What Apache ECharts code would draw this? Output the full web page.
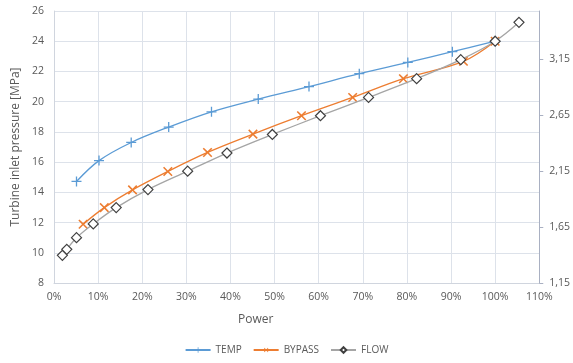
<!DOCTYPE html>
<html>
<head>
<meta charset="utf-8">
<script src="https://cdn.jsdelivr.net/npm/echarts@6/dist/echarts.min.js"></script>
<style>
  html, body { margin: 0; padding: 0; background: #fff; }
  #chart { width: 573px; height: 363px; }
</style>
</head>
<body>
<div id="chart"></div>
<script>
// Turbine inlet pressure vs. power for three control modes
const tempPower   = [5.1, 10.2, 17.5, 26.0, 35.7, 46.3, 57.8, 69.2, 80.2, 90.3, 100];
const tempPress   = [14.72, 16.1, 17.3, 18.32, 19.33, 20.17, 21.0, 21.85, 22.6, 23.31, 24.0];

const bypassPower = [6.6, 11.4, 17.8, 25.8, 34.8, 45.1, 56.1, 67.7, 79.2, 92.8, 100];
const bypassPress = [11.89, 12.99, 14.16, 15.38, 16.64, 17.85, 19.07, 20.28, 21.52, 22.67, 24.0];

const flowPower   = [1.9, 2.9, 5.1, 8.9, 14.1, 21.3, 30.3, 39.2, 49.5, 60.4, 71.3, 82.2, 92.2, 100, 105.4];
const flowPress   = [9.83, 10.23, 11.0, 11.91, 12.99, 14.18, 15.4, 16.6, 17.83, 19.07, 20.28, 21.52, 22.78, 24.0, 25.25];

// Secondary axis: labels from 1,15 upward in steps of 0,5
const rightAxisBase = 1.15;
const rightAxisTop = 3.58;

const pair = (xs, ys) => xs.map((x, i) => [x, ys[i]]);

const PLUS = 'path://M4.35,0H5.65V4.35H10V5.65H5.65V10H4.35V5.65H0V4.35H4.35Z';

const FONT = '"Open Sans", "Noto Sans", sans-serif';
const LABEL = '#595959';
const GRID = '#DDE2EA';

const chart = echarts.init(document.getElementById('chart'), null, { renderer: 'canvas' });
chart.setOption({
  animation: false,
  textStyle: { fontFamily: FONT },
  grid: { left: 54, right: 32, top: 11, bottom: 80, containLabel: false },
  legend: {
    bottom: 3,
    left: 'center',
    itemWidth: 25,
    itemHeight: 7,
    itemGap: 11,
    textStyle: { color: LABEL, fontSize: 10, fontFamily: FONT },
    data: ['TEMP', 'BYPASS', 'FLOW']
  },
  xAxis: {
    type: 'value',
    min: 0, max: 110, interval: 10,
    name: 'Power',
    nameLocation: 'middle',
    nameGap: 31,
    nameTextStyle: { color: LABEL, fontSize: 12, padding: [0, 82, 0, 0] },
    axisLine: { show: true, lineStyle: { color: '#D0D5DE' } },
    axisTick: { show: false },
    axisLabel: { color: LABEL, fontSize: 10.5, margin: 9, formatter: v => v + '%' },
    splitLine: { show: true, lineStyle: { color: GRID } }
  },
  yAxis: [
    {
      type: 'value',
      min: 8, max: 26, interval: 2,
      name: 'Turbine inlet pressure [MPa]',
      nameLocation: 'middle',
      nameGap: 32,
      nameTextStyle: { color: LABEL, fontSize: 12 },
      axisLine: { show: true, lineStyle: { color: '#D0D5DE' } },
      axisTick: { show: false },
      axisLabel: { color: LABEL, fontSize: 10.5, margin: 10 },
      splitLine: { show: true, lineStyle: { color: GRID } }
    },
    {
      type: 'value',
      position: 'right',
      min: 0, max: rightAxisTop - rightAxisBase, interval: 0.5,
      axisLine: { show: true, lineStyle: { color: '#A9B0C2' } },
      axisTick: { show: true, length: 4, lineStyle: { color: '#A9B0C2' } },
      axisLabel: {
        color: LABEL, fontSize: 10.5, margin: 10, showMaxLabel: false,
        formatter: v => (v + rightAxisBase).toFixed(2).replace('.', ',')
      },
      splitLine: { show: false }
    }
  ],
  series: [
    {
      name: 'TEMP',
      type: 'line',
      smooth: 0.35,
      data: pair(tempPower, tempPress),
      symbol: PLUS,
      symbolSize: 10,
      lineStyle: { color: '#5B9BD5', width: 1.3 },
      itemStyle: { color: '#5B9BD5' },
      z: 3
    },
    {
      name: 'BYPASS',
      type: 'line',
      smooth: 0.35,
      data: pair(bypassPower, bypassPress),
      symbol: PLUS,
      symbolRotate: 45,
      symbolSize: 12,
      lineStyle: { color: '#ED7D31', width: 1.3 },
      itemStyle: { color: '#ED7D31' },
      z: 3
    },
    {
      name: 'FLOW',
      type: 'line',
      smooth: 0.35,
      data: pair(flowPower, flowPress),
      symbol: 'diamond',
      symbolSize: [10, 10],
      lineStyle: { color: '#A5A5A5', width: 1.3 },
      itemStyle: { color: '#FFFFFF', borderColor: '#404040', borderWidth: 1.2 },
      z: 4
    }
  ]
});
</script>
</body>
</html>
